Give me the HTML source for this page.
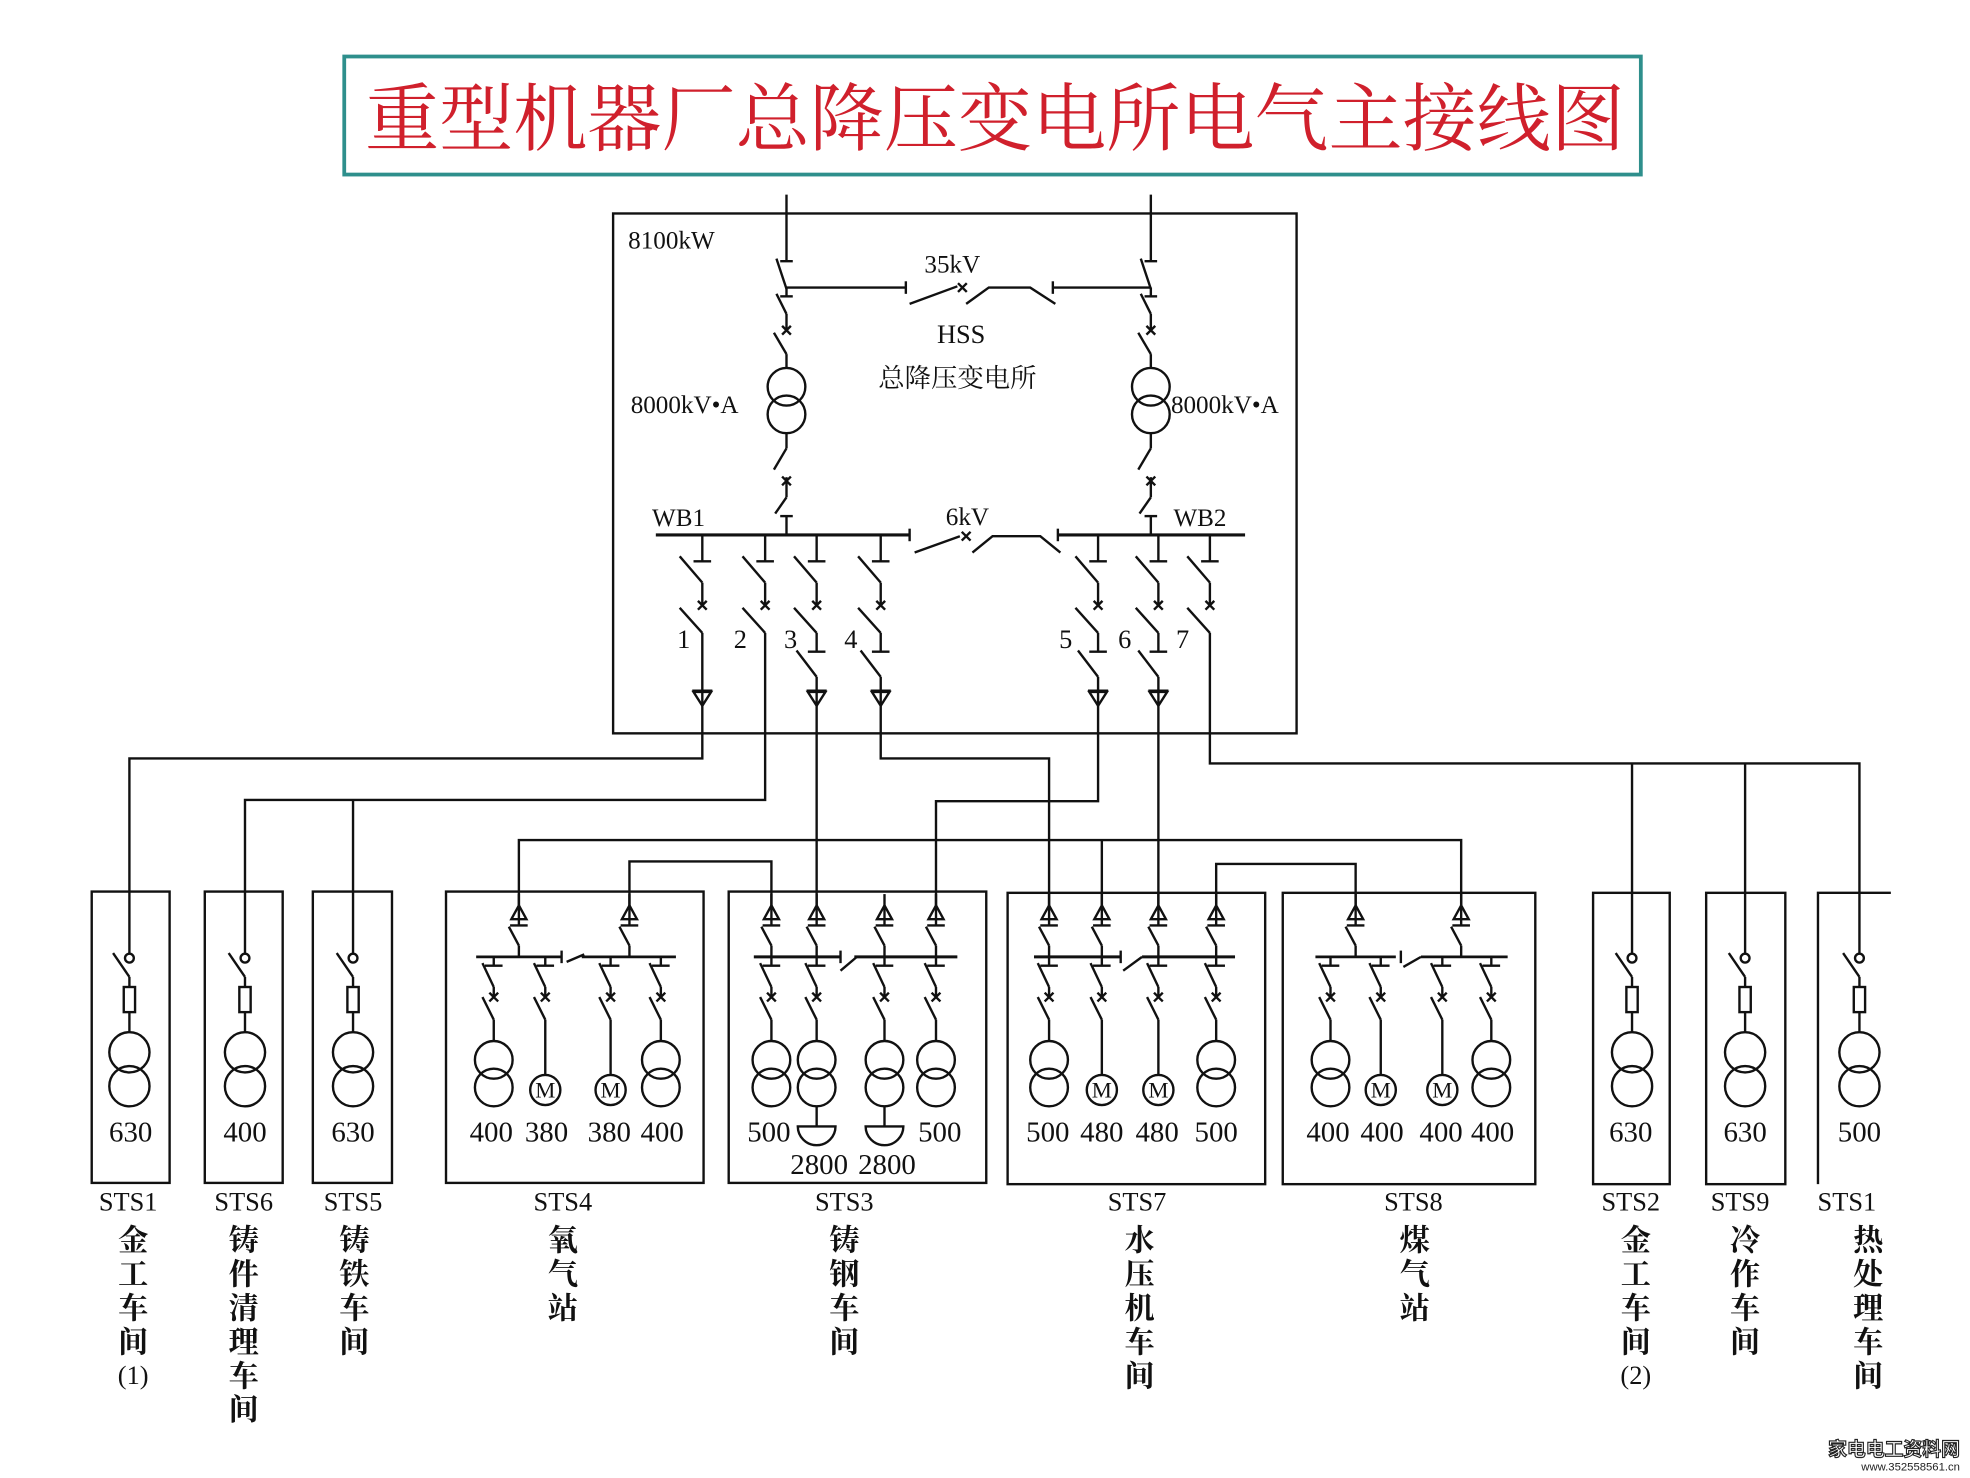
<!DOCTYPE html>
<html><head><meta charset="utf-8"><style>
html,body{margin:0;padding:0;background:#fff;}
svg{display:block;}
text{font-family:"Liberation Serif","Noto Serif CJK SC",serif;fill:#111;}
.cn{font-family:"Liberation Serif","Noto Serif CJK SC",serif;font-weight:700;font-size:24px;}
</style></head><body>
<svg width="1970" height="1478" viewBox="0 0 1568 1177" preserveAspectRatio="none" xmlns="http://www.w3.org/2000/svg">
<defs>
<g id="xm"><line x1="-3.5" y1="-3.5" x2="3.5" y2="3.5"/><line x1="-3.5" y1="3.5" x2="3.5" y2="-3.5"/></g>
<g id="drop">
<line x1="0" y1="762" x2="0" y2="769"/><line x1="-7" y1="769" x2="7" y2="769"/>
<line x1="-9" y1="767" x2="0" y2="786"/><line x1="0" y1="786" x2="0" y2="794"/>
<use href="#xm" y="794"/>
<line x1="-9" y1="794" x2="0" y2="812"/><line x1="0" y1="812" x2="0" y2="829"/>
</g>
<g id="head">
<polygon points="0,721 -6,732 6,732" fill="none"/>
<line x1="0" y1="712" x2="0" y2="737"/><line x1="-7" y1="737" x2="7" y2="737"/>
<line x1="-8" y1="738" x2="0" y2="753"/><line x1="0" y1="753" x2="0" y2="762"/>
</g>
<g id="xf"><circle cx="0" cy="844" r="15" fill="none"/><circle cx="0" cy="866" r="15" fill="none"/></g>
<g id="mot"><line x1="0" y1="829" x2="0" y2="856"/><circle cx="0" cy="868" r="12" fill="none"/></g>
<g id="small">
<circle cx="0" cy="763" r="3.5" fill="none"/>
<line x1="-13" y1="759" x2="0" y2="778"/><line x1="0" y1="778" x2="0" y2="786"/>
<rect x="-4.5" y="786" width="9" height="20" fill="none"/>
<line x1="0" y1="806" x2="0" y2="822"/>
<circle cx="0" cy="838" r="16" fill="none"/><circle cx="0" cy="865" r="16" fill="none"/>
</g>
<g id="feed">
<line x1="0" y1="426" x2="0" y2="447"/><line x1="-7" y1="447" x2="7" y2="447"/>
<line x1="-18" y1="443" x2="0" y2="464"/><line x1="0" y1="464" x2="0" y2="482"/>
<use href="#xm" y="482"/>
<line x1="-18" y1="484" x2="0" y2="504"/>
</g>
<g id="sec">
<line x1="0" y1="504" x2="0" y2="519"/><line x1="-7" y1="519" x2="7" y2="519"/>
<line x1="-16" y1="518" x2="0" y2="539"/>
</g>
<g id="ch"><line x1="-8" y1="550" x2="8" y2="550"/><polygon points="-7,551 7,551 0,562" fill="none"/></g>
<g id="col">
<line x1="0" y1="155" x2="0" y2="208"/><line x1="-5" y1="208" x2="5" y2="208"/>
<line x1="-8" y1="206" x2="0" y2="230"/><line x1="0" y1="229" x2="0" y2="236"/>
<line x1="-5" y1="236" x2="5" y2="236"/>
<line x1="-8" y1="234" x2="0" y2="250"/><line x1="0" y1="250" x2="0" y2="263"/>
<use href="#xm" y="263"/>
<line x1="-10" y1="265" x2="0" y2="282"/><line x1="0" y1="282" x2="0" y2="293"/>
<circle cx="0" cy="308" r="15" fill="none"/><circle cx="0" cy="330" r="15" fill="none"/>
<line x1="0" y1="345" x2="0" y2="357"/><line x1="0" y1="357" x2="-10" y2="374"/>
<use href="#xm" y="383"/><line x1="0" y1="380" x2="0" y2="396"/>
<line x1="0" y1="396" x2="-9" y2="409"/>
<line x1="-5" y1="411" x2="5" y2="411"/><line x1="0" y1="411" x2="0" y2="426"/>
</g>
</defs>

<rect x="274" y="45" width="1032" height="94" fill="#fff" stroke="#2e8f8c" stroke-width="3"/>
<text x="792" y="115" text-anchor="middle" style="font-family:'Liberation Serif','Noto Serif CJK SC',serif;font-size:59px;fill:#d0202c;">重型机器厂总降压变电所电气主接线图</text>

<g stroke="#111" stroke-width="1.9" fill="none">
<rect x="488" y="170" width="544" height="414"/>
<use href="#col" x="626"/>
<use href="#col" x="916"/>
<line x1="626" y1="229" x2="721" y2="229"/><line x1="721" y1="224" x2="721" y2="234"/>
<line x1="724" y1="242" x2="762" y2="228"/><use href="#xm" x="766" y="229"/>
<polyline points="769,242 787,229 820,229 840,242"/>
<line x1="838" y1="224" x2="838" y2="234"/><line x1="838" y1="229" x2="916" y2="229"/>
<line x1="522" y1="426" x2="724" y2="426" stroke-width="2.4"/><line x1="724" y1="421" x2="724" y2="431"/>
<line x1="728" y1="440" x2="764" y2="427"/><use href="#xm" x="769" y="427"/>
<polyline points="774,440 790,427 828,427 844,440"/>
<line x1="842" y1="421" x2="842" y2="431"/>
<line x1="842" y1="426" x2="991" y2="426" stroke-width="2.4"/>
<use href="#feed" x="559"/><use href="#feed" x="609"/><use href="#feed" x="650"/><use href="#feed" x="701"/>
<use href="#feed" x="874"/><use href="#feed" x="922"/><use href="#feed" x="963"/>
<use href="#sec" x="650"/><use href="#sec" x="701"/><use href="#sec" x="874"/><use href="#sec" x="922"/>
<use href="#ch" x="559"/><use href="#ch" x="650"/><use href="#ch" x="701"/><use href="#ch" x="874"/><use href="#ch" x="922"/>
<polyline points="559,504 559,604 103,604 103,760"/>
<polyline points="609,504 609,637 195,637 195,760"/>
<polyline points="281,637 281,760"/>
<polyline points="650,539 650,721"/>
<polyline points="701,539 701,604 835,604 835,721"/>
<polyline points="874,539 874,638 745,638 745,721"/>
<polyline points="922,539 922,721"/>
<polyline points="963,504 963,608 1480,608 1480,760"/>
<line x1="1299" y1="608" x2="1299" y2="760"/><line x1="1389" y1="608" x2="1389" y2="760"/>
<polyline points="413,721 413,669 1163,669 1163,721"/>
<line x1="877" y1="669" x2="877" y2="721"/>
<polyline points="501,721 501,686 614,686 614,721"/>
<polyline points="968,721 968,688 1079,688 1079,721"/>

<rect x="73" y="710" width="62" height="232"/>
<rect x="163" y="710" width="62" height="232"/>
<rect x="249" y="710" width="63" height="232"/>
<rect x="1268" y="711" width="61" height="232"/>
<rect x="1358" y="711" width="63" height="232"/>
<polyline points="1447,943 1447,711 1505,711"/>
<use href="#small" x="103"/><use href="#small" x="195"/><use href="#small" x="281"/>
<use href="#small" x="1299"/><use href="#small" x="1389"/><use href="#small" x="1480"/>

<rect x="355" y="710" width="205" height="232"/>
<use href="#head" x="413"/><use href="#head" x="501"/>
<line x1="379" y1="762" x2="447" y2="762" stroke-width="2.2"/><line x1="447" y1="757" x2="447" y2="767"/>
<line x1="451" y1="766" x2="465" y2="760"/>
<line x1="463" y1="762" x2="538" y2="762" stroke-width="2.2"/>
<use href="#drop" x="393"/><use href="#drop" x="434"/><use href="#drop" x="486"/><use href="#drop" x="526"/>
<use href="#xf" x="393"/><use href="#xf" x="526"/><use href="#mot" x="434"/><use href="#mot" x="486"/>

<rect x="580" y="710" width="205" height="232"/>
<use href="#head" x="614"/><use href="#head" x="650"/><use href="#head" x="704"/><use href="#head" x="745"/>
<line x1="600" y1="762" x2="669" y2="762" stroke-width="2.4"/><line x1="669" y1="757" x2="669" y2="767"/>
<line x1="669" y1="773" x2="682" y2="762"/>
<line x1="680" y1="762" x2="762" y2="762" stroke-width="2.4"/>
<use href="#drop" x="614"/><use href="#drop" x="650"/><use href="#drop" x="704"/><use href="#drop" x="745"/>
<use href="#xf" x="614"/><use href="#xf" x="650"/><use href="#xf" x="704"/><use href="#xf" x="745"/>
<line x1="650" y1="881" x2="650" y2="897"/><path d="M635,897 H665 A15,15 0 0 1 635,897 Z"/>
<line x1="704" y1="881" x2="704" y2="897"/><path d="M689,897 H719 A15,15 0 0 1 689,897 Z"/>

<rect x="802" y="711" width="205" height="232"/>
<use href="#head" x="835"/><use href="#head" x="877"/><use href="#head" x="922"/><use href="#head" x="968"/>
<line x1="823" y1="762" x2="892" y2="762" stroke-width="2.4"/><line x1="892" y1="757" x2="892" y2="767"/>
<line x1="894" y1="773" x2="909" y2="762"/>
<line x1="909" y1="762" x2="983" y2="762" stroke-width="2.4"/>
<use href="#drop" x="835"/><use href="#drop" x="877"/><use href="#drop" x="922"/><use href="#drop" x="968"/>
<use href="#xf" x="835"/><use href="#xf" x="968"/><use href="#mot" x="877"/><use href="#mot" x="922"/>

<rect x="1021" y="711" width="201" height="232"/>
<use href="#head" x="1079"/><use href="#head" x="1163"/>
<line x1="1047" y1="762" x2="1111" y2="762" stroke-width="2.2"/><line x1="1115" y1="757" x2="1115" y2="767"/>
<line x1="1117" y1="770" x2="1131" y2="762"/>
<line x1="1131" y1="762" x2="1200" y2="762" stroke-width="2.2"/>
<use href="#drop" x="1059"/><use href="#drop" x="1099"/><use href="#drop" x="1148"/><use href="#drop" x="1187"/>
<use href="#xf" x="1059"/><use href="#xf" x="1187"/><use href="#mot" x="1099"/><use href="#mot" x="1148"/>
</g>

<g style="font-size:20px">
<text x="500" y="198">8100kW</text>
<text x="758" y="217" text-anchor="middle">35kV</text>
<text x="765" y="273" text-anchor="middle" style="font-size:21px">HSS</text>
<text x="762" y="308" text-anchor="middle" style="font-size:21px">总降压变电所</text>
<text x="502" y="329">8000kV•A</text>
<text x="932" y="329">8000kV•A</text>
<text x="519" y="419">WB1</text>
<text x="770" y="418" text-anchor="middle">6kV</text>
<text x="934" y="419">WB2</text>
<text x="539" y="516" style="font-size:21px">1</text>
<text x="584" y="516" style="font-size:21px">2</text>
<text x="624" y="516" style="font-size:21px">3</text>
<text x="672" y="516" style="font-size:21px">4</text>
<text x="843" y="516" style="font-size:21px">5</text>
<text x="890" y="516" style="font-size:21px">6</text>
<text x="936" y="516" style="font-size:21px">7</text>
</g>
<g style="font-size:18px" text-anchor="middle">
<text x="434" y="874">M</text><text x="486" y="874">M</text>
<text x="877" y="874">M</text><text x="922" y="874">M</text>
<text x="1099" y="874">M</text><text x="1148" y="874">M</text>
</g>
<g style="font-size:23px" text-anchor="middle">
<text x="104" y="909">630</text><text x="195" y="909">400</text><text x="281" y="909">630</text>
<text x="391" y="909">400</text><text x="435" y="909">380</text><text x="485" y="909">380</text><text x="527" y="909">400</text>
<text x="612" y="909">500</text><text x="748" y="909">500</text>
<text x="652" y="935">2800</text><text x="706" y="935">2800</text>
<text x="834" y="909">500</text><text x="877" y="909">480</text><text x="921" y="909">480</text><text x="968" y="909">500</text>
<text x="1057" y="909">400</text><text x="1100" y="909">400</text><text x="1147" y="909">400</text><text x="1188" y="909">400</text>
<text x="1298" y="909">630</text><text x="1389" y="909">630</text><text x="1480" y="909">500</text>
</g>
<g style="font-size:21px" text-anchor="middle">
<text x="102" y="964">STS1</text><text x="194" y="964">STS6</text><text x="281" y="964">STS5</text>
<text x="448" y="964">STS4</text><text x="672" y="964">STS3</text><text x="905" y="964">STS7</text>
<text x="1125" y="964">STS8</text><text x="1298" y="964">STS2</text><text x="1385" y="964">STS9</text>
<text x="1470" y="964">STS1</text>
</g>
<g class="cn" text-anchor="middle">
<text x="106" y="996">金</text><text x="106" y="1023">工</text><text x="106" y="1050">车</text><text x="106" y="1077">间</text><text x="106" y="1102" style="font-weight:400;font-size:21px">(1)</text>
<text x="194" y="996">铸</text><text x="194" y="1023">件</text><text x="194" y="1050">清</text><text x="194" y="1077">理</text><text x="194" y="1104">车</text><text x="194" y="1131">间</text>
<text x="282" y="996">铸</text><text x="282" y="1023">铁</text><text x="282" y="1050">车</text><text x="282" y="1077">间</text>
<text x="448" y="996">氧</text><text x="448" y="1023">气</text><text x="448" y="1050">站</text>
<text x="672" y="996">铸</text><text x="672" y="1023">钢</text><text x="672" y="1050">车</text><text x="672" y="1077">间</text>
<text x="907" y="996">水</text><text x="907" y="1023">压</text><text x="907" y="1050">机</text><text x="907" y="1077">车</text><text x="907" y="1104">间</text>
<text x="1126" y="996">煤</text><text x="1126" y="1023">气</text><text x="1126" y="1050">站</text>
<text x="1302" y="996">金</text><text x="1302" y="1023">工</text><text x="1302" y="1050">车</text><text x="1302" y="1077">间</text><text x="1302" y="1102" style="font-weight:400;font-size:21px">(2)</text>
<text x="1389" y="996">冷</text><text x="1389" y="1023">作</text><text x="1389" y="1050">车</text><text x="1389" y="1077">间</text>
<text x="1487" y="996">热</text><text x="1487" y="1023">处</text><text x="1487" y="1050">理</text><text x="1487" y="1077">车</text><text x="1487" y="1104">间</text>
</g>
<text x="1560" y="1159" text-anchor="end" style="font-family:'Noto Sans CJK SC',sans-serif;font-weight:700;font-size:15px;fill:#fff;stroke:#222;stroke-width:0.9">家电电工资料网</text>
<text x="1560" y="1171" text-anchor="end" style="font-family:'Liberation Sans',sans-serif;font-size:9px;fill:#222">www.352558561.cn</text>
</svg>
</body></html>
